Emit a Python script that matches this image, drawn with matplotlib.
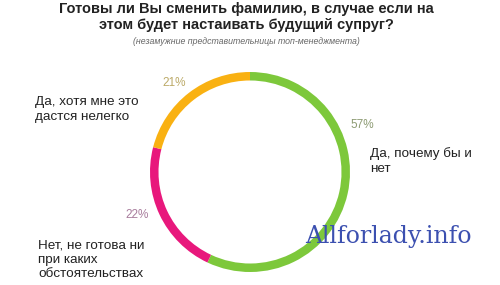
import matplotlib
matplotlib.use('Agg')
import matplotlib.pyplot as plt

# ---------- data ----------
shares = [57, 22, 21]
pct_labels = ['57%', '22%', '21%']
answers = ['Да, почему бы и\nнет',
           'Нет, не готова ни\nпри каких\nобстоятельствах',
           'Да, хотя мне это\nдастся нелегко']
colors = ['#7DC83B', '#E8187C', '#F9B112']
pct_colors = ['#8C9A72', '#A87C9C', '#BCAA68']

title = ('Готовы ли Вы сменить фамилию, в случае если на\n'
         'этом будет настаивать будущий супруг?')
subtitle = '(незамужние представительницы топ-менеджмента)'

plt.rcParams['font.family'] = ['Liberation Sans', 'DejaVu Sans']

W, H = 500, 285
fig = plt.figure(figsize=(W / 100, H / 100), dpi=100)
ax = fig.add_axes([0, 0, 1, 1])

# ring: centre/radius in pixel units (y up)
ax.pie(shares, colors=colors, startangle=90, counterclock=False,
       center=(250, H - 172), radius=100,
       wedgeprops=dict(width=8.5, edgecolor='none'))
ax.set_xlim(0, W)
ax.set_ylim(0, H)
ax.set_aspect('equal')
ax.axis('off')

# percentage labels
pct_pos = [(362, 125), (137, 215), (174, 83)]
for (x, y), t, c in zip(pct_pos, pct_labels, pct_colors):
    ax.text(x, H - y, t, fontsize=8.5, color=c, ha='center', va='center')

# answer labels
ans_pos = [(370, 147), (38, 239), (35, 96)]
for (x, y), t in zip(ans_pos, answers):
    ax.text(x, H - y, t, fontsize=9.7, color='#222222', ha='left', va='top',
            linespacing=1.3)

ax.text(246, H - 2, title, fontsize=10.5, fontweight='bold', color='#222222',
        ha='center', va='top', linespacing=1.2)
ax.text(246, H - 42, subtitle, fontsize=6.3, style='italic', color='#666666',
        ha='center', va='center')

# watermark
ax.text(388, H - 236, 'Allforlady.info', fontsize=17, color='#3C50B0',
        family='DejaVu Serif', ha='center', va='center')

fig.savefig('out.png', dpi=100)
